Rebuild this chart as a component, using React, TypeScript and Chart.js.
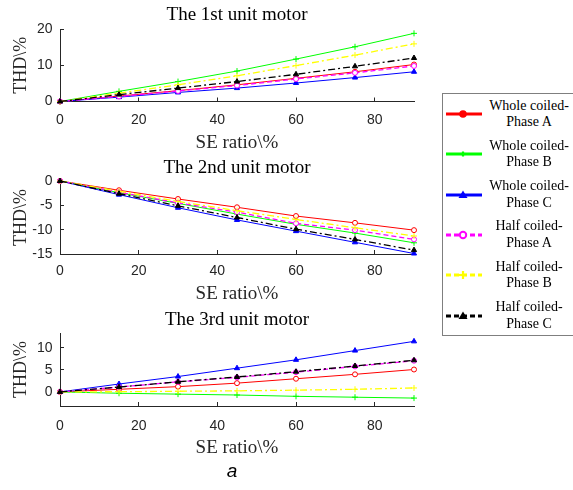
import React, { useEffect, useRef } from "react";
import { Chart, registerables } from "chart.js";

Chart.register(...registerables);

// ---------- data ----------
const seRatio = [0, 15, 30, 45, 60, 75, 90];

const seriesNames = [
  "Whole coiled-Phase A",
  "Whole coiled-Phase B",
  "Whole coiled-Phase C",
  "Half coiled-Phase A",
  "Half coiled-Phase B",
  "Half coiled-Phase C",
];

const legendLine1 = ["Whole coiled-", "Whole coiled-", "Whole coiled-", "Half coiled-", "Half coiled-", "Half coiled-"];
const legendLine2 = ["Phase A", "Phase B", "Phase C", "Phase A", "Phase B", "Phase C"];

const motor1WholeA = [0, 1.5, 3.0, 4.6, 6.4, 8.2, 10.2];
const motor1WholeB = [0, 2.8, 5.5, 8.4, 11.7, 15.1, 18.8];
const motor1WholeC = [0, 1.2, 2.5, 3.7, 5.1, 6.6, 8.2];
const motor1HalfA = [0, 1.4, 2.9, 4.4, 6.2, 7.9, 9.8];
const motor1HalfB = [0, 2.3, 4.6, 7.1, 9.9, 12.8, 15.9];
const motor1HalfC = [0, 1.9, 3.7, 5.5, 7.5, 9.7, 12.0];

const motor2WholeA = [0, -1.9, -3.7, -5.4, -7.2, -8.6, -10.1];
const motor2WholeB = [0, -2.4, -4.6, -6.8, -8.9, -10.7, -12.7];
const motor2WholeC = [0, -2.8, -5.5, -8.0, -10.3, -12.6, -14.9];
const motor2HalfA = [0, -2.3, -4.5, -6.4, -8.7, -10.1, -12.0];
const motor2HalfB = [0, -2.1, -4.2, -6.1, -7.9, -9.6, -11.3];
const motor2HalfC = [0, -2.6, -5.1, -7.5, -9.9, -12.0, -14.2];

const motor3WholeA = [0, 0.6, 1.2, 2.0, 3.0, 4.0, 5.1];
const motor3WholeB = [0, -0.3, -0.5, -0.7, -1.0, -1.2, -1.4];
const motor3WholeC = [0, 1.8, 3.5, 5.4, 7.3, 9.4, 11.5];
const motor3HalfA = [0, 1.1, 2.3, 3.3, 4.5, 5.8, 7.1];
const motor3HalfB = [0, 0.05, 0.15, 0.25, 0.4, 0.6, 0.9];
const motor3HalfC = [0, 1.1, 2.3, 3.4, 4.6, 5.9, 7.2];

const chartTitles = ["The 1st unit motor", "The 2nd unit motor", "The 3rd unit motor"];
const xAxisLabel = "SE ratio\\%";
const yAxisLabel = "THD\\%";
const figureCaption = "a";

// ---------- styles ----------
const seriesStyles = [
  { color: "#ff0000", point: "circle", fill: "#ffffff", dash: [] as number[], width: 1, radius: 2.5 },
  { color: "#00ff00", point: "cross", fill: "#00ff00", dash: [] as number[], width: 1, radius: 3 },
  { color: "#0000ff", point: "triangle", fill: "#0000ff", dash: [] as number[], width: 1, radius: 3 },
  { color: "#ff00ff", point: "circle", fill: "#ffffff", dash: [5, 3], width: 1.3, radius: 2.5 },
  { color: "#ffff00", point: "cross", fill: "#ffff00", dash: [7, 3, 2, 3], width: 1.3, radius: 3 },
  { color: "#000000", point: "triangle", fill: "#000000", dash: [7, 3, 2, 3], width: 1.3, radius: 3 },
];

const SERIF = "'Liberation Serif', 'Times New Roman', serif";
const SANS = "'Liberation Sans', Arial, sans-serif";
const AXIS = "#262626";

type PanelSpec = {
  title: string;
  series: number[][];
  yMin: number;
  yMax: number;
  yStep: number;
  top: number;
  height: number;
  titlePadTop: number;
  titlePadBottom: number;
  xHeight: number;
  xTickPad: number;
  xTitlePadBottom: number;
};

const panels: PanelSpec[] = [
  {
    title: chartTitles[0],
    series: [motor1WholeA, motor1WholeB, motor1WholeC, motor1HalfA, motor1HalfB, motor1HalfC],
    yMin: 0, yMax: 20, yStep: 10,
    top: 0, height: 160,
    titlePadTop: 3.8, titlePadBottom: 2.4,
    xHeight: 58.5, xTickPad: 14.5, xTitlePadBottom: 5.5,
  },
  {
    title: chartTitles[1],
    series: [motor2WholeA, motor2WholeB, motor2WholeC, motor2HalfA, motor2HalfB, motor2HalfC],
    yMin: -15, yMax: 0, yStep: 5,
    top: 150, height: 160,
    titlePadTop: 6.6, titlePadBottom: 1.6,
    xHeight: 56, xTickPad: 12.8, xTitlePadBottom: 4.8,
  },
  {
    title: chartTitles[2],
    series: [motor3WholeA, motor3WholeB, motor3WholeC, motor3HalfA, motor3HalfB, motor3HalfC],
    yMin: -3.2, yMax: 13.4, yStep: 5,
    top: 300, height: 165,
    titlePadTop: 8.6, titlePadBottom: 1.6,
    xHeight: 59, xTickPad: 15.6, xTitlePadBottom: 5.6,
  },
];

const CANVAS_W = 430;

function buildConfig(p: PanelSpec): any {
  return {
    type: "line",
    data: {
      datasets: p.series.map((vals, i) => {
        const s = seriesStyles[i];
        return {
          label: seriesNames[i],
          data: seRatio.map((x, j) => ({ x, y: vals[j] })),
          borderColor: s.color,
          backgroundColor: s.fill,
          borderWidth: s.width,
          borderDash: s.dash,
          pointStyle: s.point,
          pointRadius: s.radius,
          pointBorderColor: s.color,
          pointBackgroundColor: s.fill,
          pointBorderWidth: 1,
          tension: 0,
          fill: false,
          clip: false,
          order: 5 - i,
        };
      }),
    },
    options: {
      animation: false,
      responsive: false,
      devicePixelRatio: 1,
      events: [],
      layout: { padding: { left: 0, right: CANVAS_W - 414, top: 0, bottom: 0 } },
      plugins: {
        legend: { display: false },
        tooltip: { enabled: false },
        title: {
          display: true,
          fullSize: false,
          text: p.title,
          color: "#000000",
          font: { family: SERIF, size: 19, weight: "normal", lineHeight: 1.2 },
          padding: { top: p.titlePadTop, bottom: p.titlePadBottom },
        },
      },
      scales: {
        x: {
          type: "linear",
          min: 0,
          max: 90,
          afterFit: (s: any) => {
            s.height = p.xHeight;
          },
          ticks: {
            stepSize: 20,
            includeBounds: false,
            color: AXIS,
            padding: p.xTickPad,
            maxRotation: 0,
            font: { family: SANS, size: 14, lineHeight: 1.2 },
          },
          grid: {
            drawOnChartArea: false,
            drawTicks: true,
            tickLength: -4,
            color: AXIS,
            lineWidth: 1,
          },
          border: { display: true, color: AXIS, width: 1 },
          title: {
            display: true,
            text: xAxisLabel,
            color: AXIS,
            font: { family: SERIF, size: 19, weight: "normal", lineHeight: 1.2 },
            padding: { top: 0, bottom: p.xTitlePadBottom },
          },
        },
        y: {
          type: "linear",
          min: p.yMin,
          max: p.yMax,
          afterFit: (s: any) => {
            s.width = 60;
          },
          ticks: {
            stepSize: p.yStep,
            includeBounds: false,
            color: AXIS,
            padding: 11.5,
            font: { family: SANS, size: 14, lineHeight: 1.2 },
          },
          grid: {
            drawOnChartArea: false,
            drawTicks: true,
            tickLength: -4,
            color: AXIS,
            lineWidth: 1,
          },
          border: { display: true, color: AXIS, width: 1 },
          title: {
            display: true,
            text: yAxisLabel,
            color: AXIS,
            font: { family: SERIF, size: 18, weight: "normal", lineHeight: 1.2 },
            padding: { top: 10.2, bottom: 0 },
          },
        },
      },
    },
  };
}

function Panel({ spec }: { spec: PanelSpec }) {
  const ref = useRef<HTMLCanvasElement | null>(null);
  useEffect(() => {
    if (!ref.current) return;
    const chart = new Chart(ref.current, buildConfig(spec));
    return () => chart.destroy();
  }, [spec]);
  return (
    <canvas
      ref={ref}
      width={CANVAS_W}
      height={spec.height}
      style={{ position: "absolute", left: 0, top: spec.top, width: CANVAS_W, height: spec.height }}
    />
  );
}

function Marker({ i }: { i: number }) {
  const s = seriesStyles[i];
  const cx = 18;
  const cy = 6;
  if (s.point === "circle") {
    return i === 0 ? (
      <circle cx={cx} cy={cy} r={3.8} fill={s.color} />
    ) : (
      <circle cx={cx} cy={cy} r={3.2} fill="#ffffff" stroke={s.color} strokeWidth={2} />
    );
  }
  if (s.point === "cross") {
    const r = i === 1 ? 2.5 : 4;
    return (
      <g stroke={s.color} strokeWidth={2.2}>
        <line x1={cx - r} y1={cy} x2={cx + r} y2={cy} />
        <line x1={cx} y1={cy - r} x2={cx} y2={cy + r} />
      </g>
    );
  }
  return <polygon points={`${cx - 4.5},${cy + 3} ${cx + 4.5},${cy + 3} ${cx},${cy - 4.5}`} fill={s.color} />;
}

function LegendBox() {
  return (
    <div
      style={{
        position: "absolute",
        left: 442,
        top: 93,
        width: 131,
        height: 243,
        boxSizing: "border-box",
        border: "1px solid #7f7f7f",
        borderRight: "none",
        background: "#ffffff",
      }}
    >
      {seriesNames.map((name, i) => {
        const s = seriesStyles[i];
        const dash = s.dash.length ? "5 3" : undefined;
        return (
          <React.Fragment key={name}>
            <svg
              width={38}
              height={12}
              style={{ position: "absolute", left: 2, top: 14 + 40.3 * i }}
            >
              <line x1={1} y1={6} x2={37} y2={6} stroke={s.color} strokeWidth={3} strokeDasharray={dash} />
              <Marker i={i} />
            </svg>
            <div
              style={{
                position: "absolute",
                left: 39,
                top: 3.5 + 40.3 * i,
                width: 94,
                textAlign: "center",
                fontFamily: SERIF,
                fontSize: 14,
                lineHeight: "16.5px",
                color: "#000000",
                whiteSpace: "nowrap",
              }}
            >
              <div>{legendLine1[i]}</div>
              <div>{legendLine2[i]}</div>
            </div>
          </React.Fragment>
        );
      })}
    </div>
  );
}

export default function App() {
  return (
    <div
      style={{
        position: "absolute",
        left: 0,
        top: 0,
        width: 573,
        height: 490,
        overflow: "hidden",
        background: "#ffffff",
      }}
    >
      {panels.map((p) => (
        <Panel key={p.title} spec={p} />
      ))}
      <LegendBox />
      <div
        style={{
          position: "absolute",
          left: 212,
          top: 459,
          width: 40,
          textAlign: "center",
          fontFamily: SANS,
          fontStyle: "italic",
          fontSize: 19,
          lineHeight: "24px",
          color: "#000000",
        }}
      >
        {figureCaption}
      </div>
    </div>
  );
}
